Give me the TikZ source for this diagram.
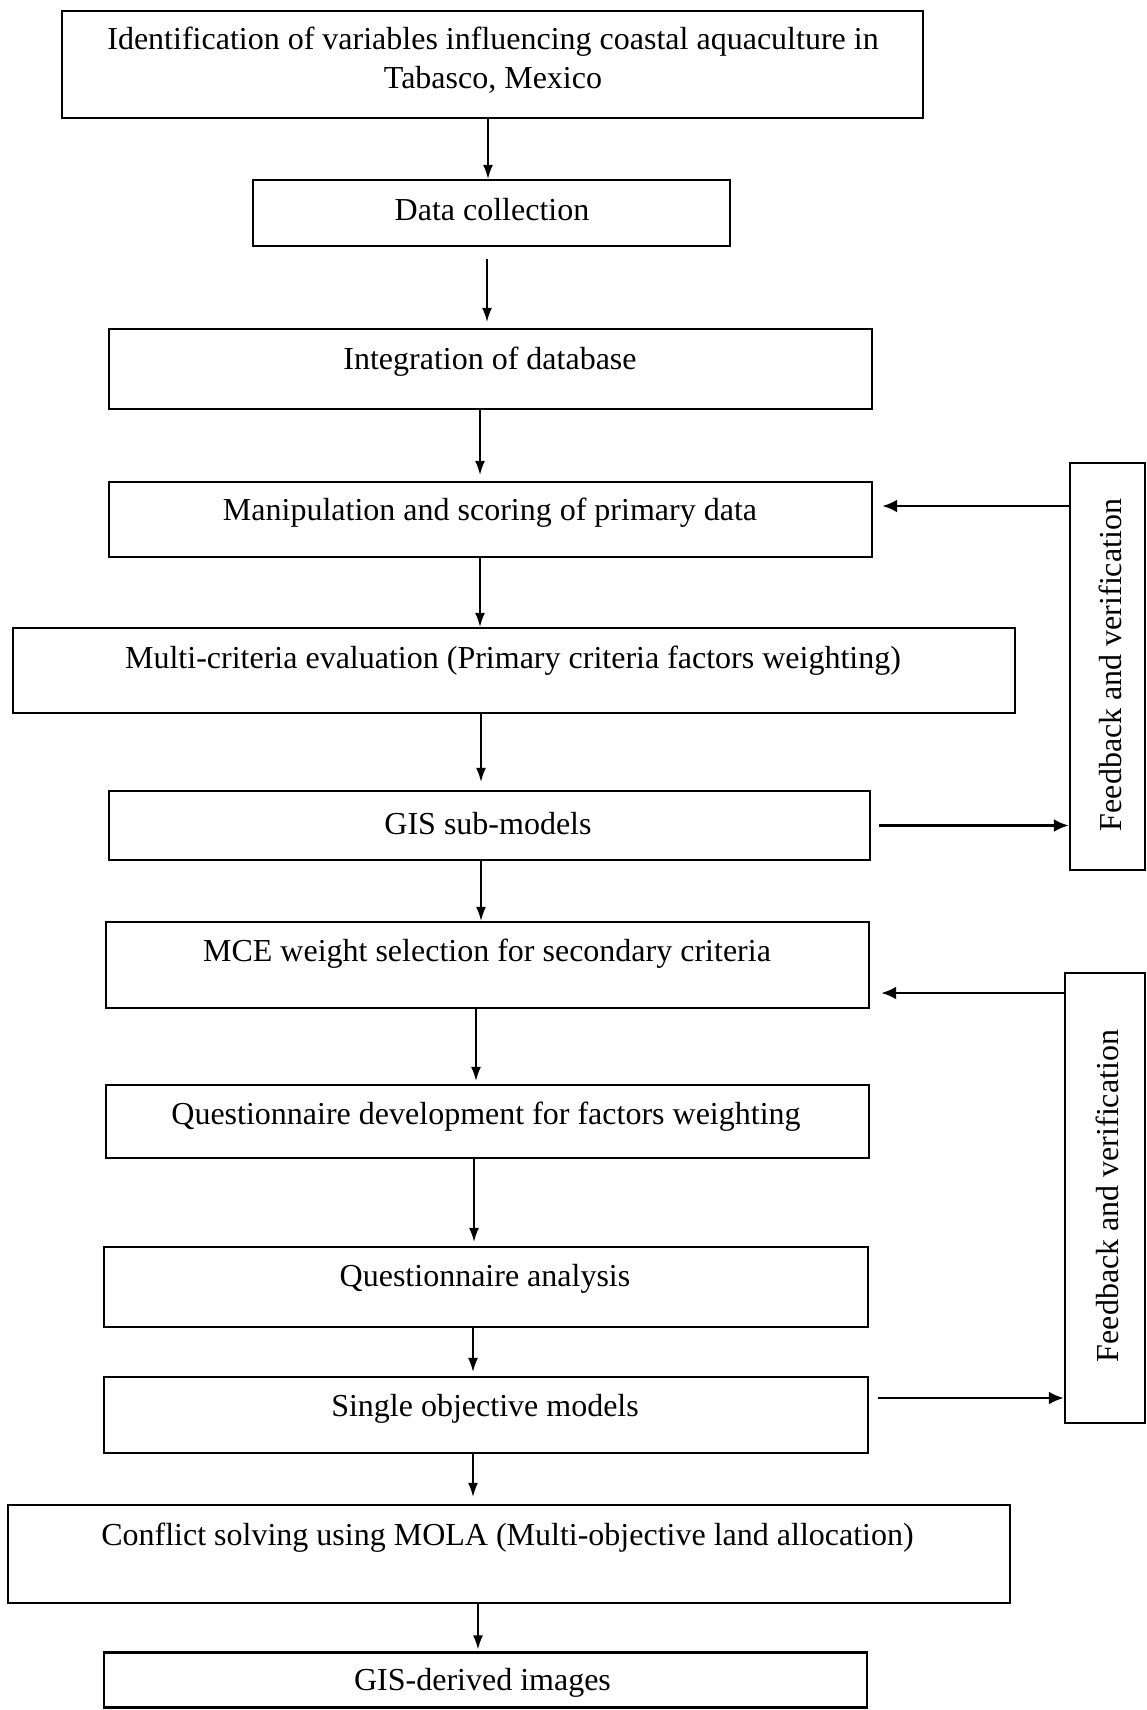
\documentclass[tikz,border=0pt]{standalone}
\usepackage{fontspec}
\setmainfont{Liberation Serif}
\usetikzlibrary{arrows.meta}

\begin{document}
\begin{tikzpicture}[x=1pt, y=-1pt,
  font=\fontsize{32}{39}\selectfont,
  box/.style={draw, line width=2.4pt, inner sep=0pt},
  lbl/.style={align=center, inner sep=0pt},
  flow/.style={line width=1.4pt, -{Latex[length=14pt,width=10pt]}},
  fback/.style={line width=2.8pt, -{Latex[length=15pt,width=13pt]}}]

\useasboundingbox (0,0) rectangle (1147,1710);

% draw process boxes

\foreach \n/\x/\y/\w/\h in {b1/492.5/64.5/861/107, b2/491.5/213/477/66,
  b3/490.5/369/763/80, b4/490.5/519.5/763/75, b5/514/670.5/1002/85,
  b6/489.5/825.5/761/69, b7/487.5/965/763/86, b8/487.5/1121.5/763/73,
  b9/486/1287/764/80, b10/486/1415/764/76, b11/509/1554/1002/98,
  b12/485.5/1680/763/55}
{
  \node[box, minimum width=\w pt, minimum height=\h pt] (\n) at (\x,\y) {};
}

% draw feedback boxes

\node[box, minimum width=75pt, minimum height=407pt] (fb1) at (1107.5,666.5) {};
\node[box, minimum width=80pt, minimum height=450pt] (fb2) at (1105,1198) {};

% texts of the boxes

\node[lbl] (t1) at (493,60) {Identification of variables influencing coastal aquaculture in\\Tabasco, Mexico};
\node[lbl] (t2) at (492,210) {Data collection};
\node[lbl] (t3) at (490,362) {Integration of database};
\node[lbl] (t4) at (490,513) {Manipulation and scoring of primary data};
\node[lbl] (t5) at (513,661) {Multi-criteria evaluation (Primary criteria factors weighting)};
\node[lbl] (t6) at (488,824) {GIS sub-models};
\node[lbl] (t7) at (487,954) {MCE weight selection for secondary criteria};
\node[lbl] (t8) at (486,1117) {Questionnaire development for factors weighting};
\node[lbl] (t9) at (485,1279) {Questionnaire analysis};
\node[lbl] (t10) at (485,1409) {Single objective models};
\node[lbl] (t11) at (507.5,1538) {Conflict solving using MOLA (Multi-objective land allocation)};
\node[lbl] (t12) at (482.5,1683) {GIS-derived images};

\node[lbl, rotate=90, font=\fontsize{32}{38}\selectfont] (f1) at (1110,665) {Feedback and verification};
\node[lbl, rotate=90, font=\fontsize{32}{38}\selectfont] (f2) at (1107,1196) {Feedback and verification};

% draw flow arrows

\draw[flow] ([xshift=-4.5pt]b1.south) -- ([xshift=-4.5pt]b1.south |- b2.north);
\draw[flow, shorten <=12pt, shorten >=6pt] ([xshift=-4.5pt]b2.south) -- ([xshift=-4.5pt]b2.south |- b3.north);
\foreach \a/\b/\dx/\gap in {b3/b4/-10.5/6, b4/b5/-10.5/0, b5/b6/-33/8,
  b6/b7/-8.5/0, b7/b8/-11.5/3, b8/b9/-13.5/4, b9/b10/-13/4,
  b10/b11/-13/7, b11/b12/-31/2}
{
  \draw[flow, shorten >=\gap pt] ([xshift=\dx pt]\a.south) -- ([xshift=\dx pt]\a.south |- \b.north);
}

% draw feedback arrows

\draw[fback, shorten >=9pt] ([yshift=13.5pt]b4.east -| fb1.west) -- ([yshift=13.5pt]b4.east);
\draw[fback, shorten <=8pt] (b6.east) -- (b6.east -| fb1.west);
\draw[fback, shorten >=11pt] ([yshift=-28pt]b7.east -| fb2.west) -- ([yshift=-28pt]b7.east);
\draw[fback, shorten <=9pt] ([yshift=17pt]b10.east) -- ([yshift=17pt]b10.east -| fb2.west);

\end{tikzpicture}
\end{document}
